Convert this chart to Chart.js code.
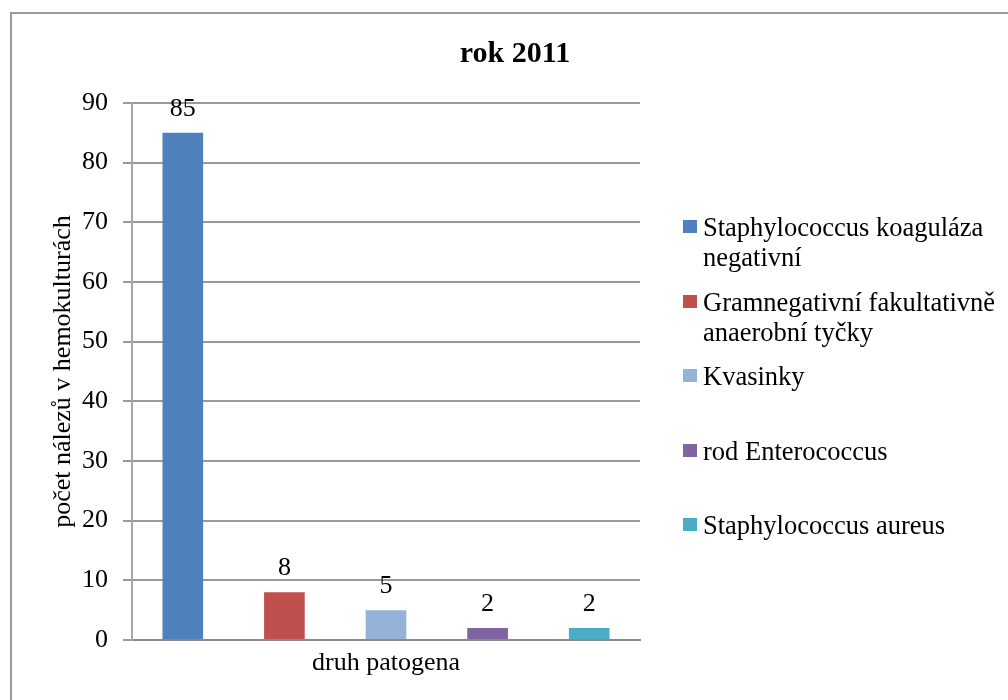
<!DOCTYPE html>
<html>
<head>
<meta charset="utf-8">
<script src="https://cdn.jsdelivr.net/npm/chart.js@4/dist/chart.umd.min.js"></script>
<style>
  body { margin: 0; background: #fff; }
  #wrap { position: relative; width: 1008px; height: 700px; overflow: hidden; }
  #frame { position: absolute; left: 10px; top: 12px; width: 1100px; height: 800px; border: 2px solid #9a9a9a; box-sizing: border-box; }
  #chart { position: absolute; left: 0; top: 0; }
  #legend { position: absolute; left: 683px; top: 0; font-family: "Liberation Serif", serif; font-size: 26.5px; color: #000; }
  .item { position: absolute; left: 0; width: 325px; }
  .box { position: absolute; left: 0; top: 8px; width: 14px; height: 13px; }
  .txt { position: absolute; left: 20px; width: 300px; line-height: 30px; }
</style>
</head>
<body>
<div id="wrap">
  <div id="frame"></div>
  <canvas id="chart" width="1008" height="700"></canvas>
  <div id="legend"></div>
</div>
<script>
const pathogens = ['Staphylococcus koaguláza negativní', 'Gramnegativní fakultativně anaerobní tyčky', 'Kvasinky', 'rod Enterococcus', 'Staphylococcus aureus'];
const counts = [85, 8, 5, 2, 2];
const colors = ['#4F81BD', '#C0504D', '#95B3D7', '#8064A2', '#4BACC6'];
const yTicks = [0, 10, 20, 30, 40, 50, 60, 70, 80, 90];

const serif = '"Liberation Serif", "Times New Roman", serif';

// one series per pathogen, value only in its own slot
const datasets = pathogens.map((name, i) => ({
    label: name,
    data: counts.map((v, j) => j === i ? v : null),
    backgroundColor: colors[i],
    barPercentage: 0.4,
    categoryPercentage: 1
}));

const valueLabels = {
    id: 'valueLabels',
    afterDatasetsDraw(chart) {
        const ctx = chart.ctx;
        ctx.save();
        ctx.font = '26px ' + serif;
        ctx.fillStyle = '#000';
        ctx.textAlign = 'center';
        ctx.textBaseline = 'alphabetic';
        chart.data.datasets.forEach((ds, i) => {
            chart.getDatasetMeta(i).data.forEach((bar, j) => {
                if (ds.data[j] == null) return;
                ctx.fillText(ds.data[j], bar.x, bar.y - 17);
            });
        });
        ctx.restore();
    }
};

const chart = new Chart(document.getElementById('chart'), {
    type: 'bar',
    data: { labels: pathogens, datasets: datasets },
    plugins: [valueLabels],
    options: {
        responsive: false,
        animation: false,
        layout: { padding: { left: 22, top: 0, right: 0, bottom: 0 } },
        datasets: { bar: { grouped: false } },
        plugins: {
            legend: { display: false },
            tooltip: { enabled: false },
            title: {
                display: true,
                text: 'rok 2011',
                color: '#000',
                font: { family: serif, size: 30, weight: 'bold' },
                padding: { top: 36, bottom: 31 }
            }
        },
        scales: {
            x: {
                grid: { display: false },
                ticks: { display: false },
                border: { display: true, color: '#8a8a8a', width: 2 },
                title: {
                    display: true,
                    text: 'druh patogena',
                    color: '#000',
                    font: { family: serif, size: 26 },
                    padding: { top: 0, bottom: 21 }
                },
                afterFit(s) { s.height = 60; }
            },
            y: {
                min: 0,
                max: 90,
                afterBuildTicks(s) { s.ticks = yTicks.map(v => ({ value: v })); },
                ticks: { color: '#000', font: { family: serif, size: 26 }, padding: 15 },
                grid: { color: '#999999', lineWidth: 2, tickLength: 9 },
                border: { color: '#a6a6a6', width: 2 },
                title: {
                    display: true,
                    text: 'počet nálezů v hemokulturách',
                    color: '#000',
                    font: { family: serif, size: 26 },
                    padding: { top: 26, bottom: 0 }
                },
                afterFit(s) { s.width = 110; }
            },
            // empty axis that keeps room for the legend on the right
            side: {
                type: 'linear',
                position: 'right',
                grid: { display: false },
                ticks: { display: false },
                border: { display: false },
                afterFit(s) { s.width = 368; }
            }
        }
    }
});

// legend built from the datasets
const legendTop = [227, 302, 376, 451, 525];
const legend = document.getElementById('legend');
chart.data.datasets.forEach((ds, i) => {
    const item = document.createElement('div');
    item.className = 'item';
    item.style.top = (legendTop[i] - 15) + 'px';
    const box = document.createElement('div');
    box.className = 'box';
    box.style.background = ds.backgroundColor;
    const txt = document.createElement('div');
    txt.className = 'txt';
    txt.textContent = ds.label;
    item.appendChild(box);
    item.appendChild(txt);
    legend.appendChild(item);
});
</script>
</body>
</html>
